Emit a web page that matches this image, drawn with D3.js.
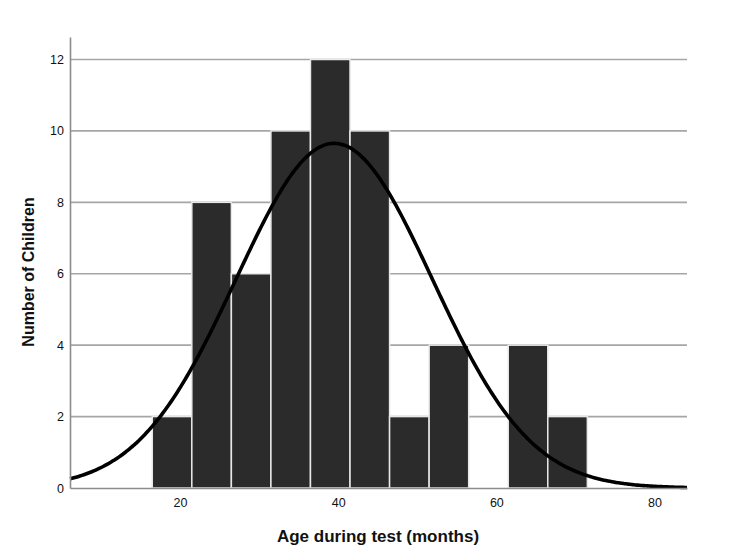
<!DOCTYPE html>
<html>
<head>
<meta charset="utf-8">
<script src="https://cdn.jsdelivr.net/npm/d3@7"></script>
<style>
    body { margin: 0; background: #fff; }
    text { font-family: "Liberation Sans", Arial, sans-serif; }
</style>
</head>
<body>
<div id="histogram"></div>
<script>
// histogram bins (months) and counts
const binStarts = [16.5, 21.5, 26.5, 31.5, 36.5, 41.5, 46.5, 51.5, 56.5, 61.5, 66.5];
const binCounts = [2, 8, 6, 10, 12, 10, 2, 4, 0, 4, 2];
const binWidth = 5;

// fitted normal curve parameters
const curveMean = 39.5;
const curveSd = 12.4;
const totalN = 60;

const xTicks = [20, 40, 60, 80];
const yTicks = [0, 2, 4, 6, 8, 10, 12];

const width = 750;
const height = 560;
const margin = { top: 37, right: 63, bottom: 72, left: 70 };
const innerWidth = width - margin.left - margin.right;
const innerHeight = height - margin.top - margin.bottom;

const barColor = "#2b2b2b";
const gridColor = "#a6a6a6";

const svg = d3.select("#histogram")
    .append("svg")
        .attr("width", width)
        .attr("height", height);

const innerChart = svg.append("g")
    .attr("transform", `translate(${margin.left}, ${margin.top})`);

const xScale = d3.scaleLinear()
    .domain([6.1, 84.1])
    .range([0, innerWidth]);

const yScale = d3.scaleLinear()
    .domain([0, 12.63])
    .range([innerHeight, 0]);

// gridlines
innerChart.selectAll(".grid")
    .data(yTicks.filter(d => d > 0))
    .join("line")
        .attr("class", "grid")
        .attr("x1", 0)
        .attr("x2", innerWidth)
        .attr("y1", d => yScale(d))
        .attr("y2", d => yScale(d))
        .attr("stroke", gridColor)
        .attr("stroke-width", 1.6);

// bars
const bins = binStarts.map((x0, i) => ({ x0, x1: x0 + binWidth, count: binCounts[i] }));

innerChart.selectAll("rect")
    .data(bins.filter(d => d.count > 0))
    .join("rect")
        .attr("x", d => xScale(d.x0))
        .attr("y", d => yScale(d.count))
        .attr("width", d => xScale(d.x1) - xScale(d.x0))
        .attr("height", d => innerHeight - yScale(d.count))
        .attr("fill", barColor)
        .attr("stroke", "#e8e8e8")
        .attr("stroke-width", 1.5);

// normal curve scaled to counts
const normal = x => totalN * binWidth / (curveSd * Math.sqrt(2 * Math.PI))
    * Math.exp(-0.5 * ((x - curveMean) / curveSd) ** 2);

const curveData = d3.range(6.1, 84.15, 0.25).map(x => ({ x, y: normal(x) }));

innerChart.append("path")
    .datum(curveData)
    .attr("fill", "none")
    .attr("stroke", "#000")
    .attr("stroke-width", 3.6)
    .attr("d", d3.line().x(d => xScale(d.x)).y(d => yScale(d.y)).curve(d3.curveBasis));

// axes
const xAxis = d3.axisBottom(xScale)
    .tickValues(xTicks)
    .tickSize(0)
    .tickPadding(10);

const yAxis = d3.axisLeft(yScale)
    .tickValues(yTicks)
    .tickSize(0)
    .tickPadding(6);

innerChart.append("g")
    .attr("class", "x-axis")
    .attr("transform", `translate(0, ${innerHeight})`)
    .call(xAxis);

innerChart.append("g")
    .attr("class", "y-axis")
    .call(yAxis);

svg.selectAll(".domain")
    .attr("stroke", "#8c8c8c")
    .attr("stroke-width", 1.6);

svg.selectAll(".tick text")
    .attr("fill", "#111")
    .style("font-size", "12.5px");

// axis titles
svg.append("text")
    .text("Age during test (months)")
    .attr("x", 378)
    .attr("y", 542)
    .attr("text-anchor", "middle")
    .style("font-size", "17px")
    .style("font-weight", "bold")
    .attr("fill", "#111");

svg.append("text")
    .text("Number of Children")
    .attr("transform", "translate(34, 272) rotate(-90)")
    .attr("text-anchor", "middle")
    .style("font-size", "16px")
    .style("font-weight", "bold")
    .attr("fill", "#111");
</script>
</body>
</html>
